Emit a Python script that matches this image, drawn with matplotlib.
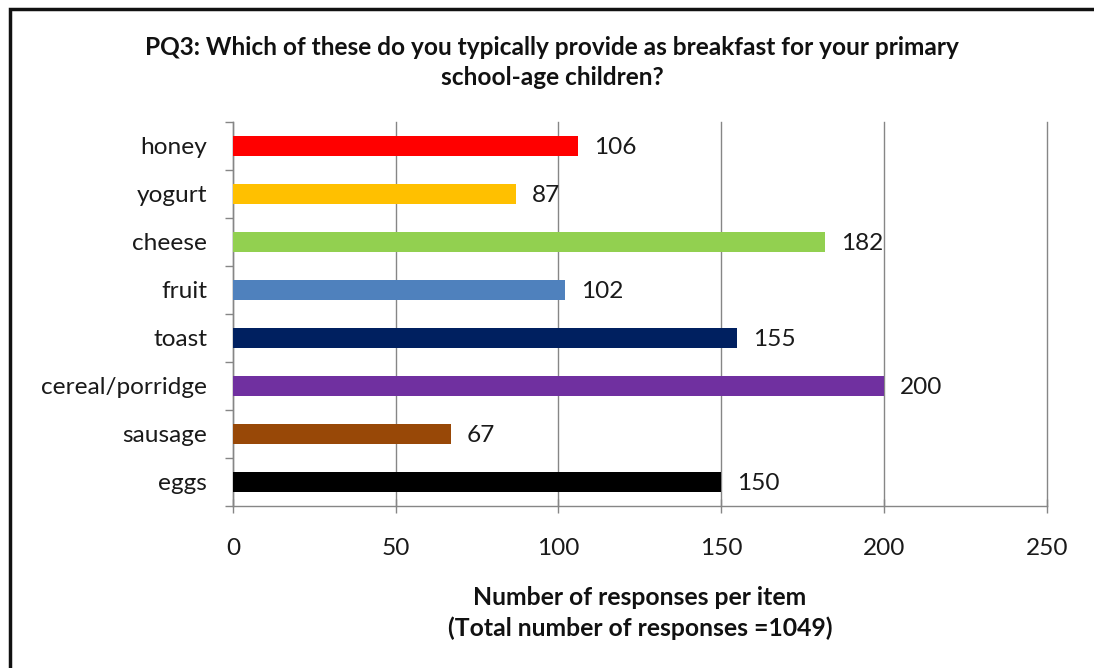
import matplotlib
matplotlib.use("Agg")
import matplotlib.pyplot as plt
from matplotlib.patches import Rectangle
import numpy as np

plt.rcParams['font.family'] = ['Lato', 'DejaVu Sans']

# ---------------------------- data ----------------------------
items = ['honey', 'yogurt', 'cheese', 'fruit', 'toast', 'cereal/porridge', 'sausage', 'eggs']
responses = [106, 87, 182, 102, 155, 200, 67, 150]
bar_colors = ['#FF0000', '#FFC000', '#92D050', '#4F81BD', '#002060', '#7030A0', '#984807', '#000000']
x_ticks = [0, 50, 100, 150, 200, 250]

title = ('PQ3: Which of these do you typically provide as breakfast for your primary\n'
         'school-age children?')
xlabel = 'Number of responses per item\n(Total number of responses =1049)'

# ---------------------------- figure ----------------------------
W, H = 1094, 668
fig = plt.figure(figsize=(W / 100, H / 100), dpi=100)
fig.patch.set_facecolor('white')

left, right, top, bottom = 233, 1046.7, 122, 506
ax = fig.add_axes([left / W, 1 - bottom / H, (right - left) / W, (bottom - top) / H])

grid_col = '#868686'
txt_col = '#1a1a1a'
fs = 17.6
y = np.arange(len(items))
ax.barh(y, responses, height=0.41, color=bar_colors, zorder=3)

ax.set_xlim(0, 250)
ax.set_ylim(len(items) - 0.5, -0.5)

ax.set_xticks(x_ticks)
ax.xaxis.grid(True, color=grid_col, linewidth=1.0, zorder=0)
for gl in ax.get_xgridlines():
    gl.set_clip_on(False)
ax.tick_params(axis='x', direction='inout', length=10, width=1, color=grid_col,
               labelsize=fs, pad=18, labelcolor=txt_col)

ax.set_yticks(y)
ax.set_yticklabels(items)
ax.set_yticks(np.arange(-0.5, len(items)), minor=True)
ax.tick_params(axis='y', which='major', length=0, pad=18.5, labelsize=fs, labelcolor=txt_col)
ax.tick_params(axis='y', which='minor', direction='out', length=5.8, width=1, color=grid_col)

for side in ('top', 'right'):
    ax.spines[side].set_visible(False)
for side in ('left', 'bottom'):
    ax.spines[side].set_color(grid_col)
    ax.spines[side].set_linewidth(1.0)

# value labels beside each bar
for yi, v in zip(y, responses):
    ax.annotate(str(v), xy=(v, yi), xytext=(16, 0), textcoords='offset pixels',
                va='center_baseline', ha='left', fontsize=fs, color=txt_col)

fig.text(552 / W, 1 - 36 / H, title, ha='center', va='top', fontsize=17.6,
         fontweight='bold', linespacing=1.38, color='#111111')
fig.text(640 / W, 1 - 586 / H, xlabel, ha='center', va='top', fontsize=17.8,
         fontweight='bold', linespacing=1.38, color='#111111')

# chart frame
fig.patches.append(Rectangle((9.5 / W, -0.1), 1.2, 1 - 9.5 / H + 0.1,
                             transform=fig.transFigure, fill=False,
                             edgecolor='#111111', linewidth=2.5))

fig.savefig('out.png', dpi=100)
